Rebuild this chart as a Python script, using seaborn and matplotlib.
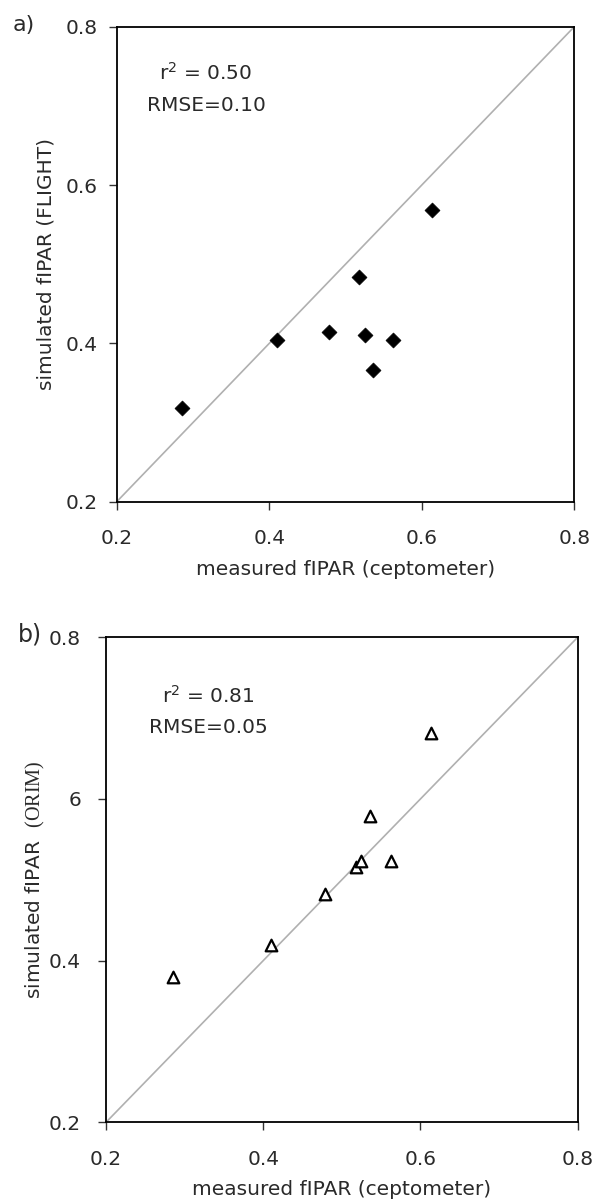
import matplotlib
matplotlib.use("Agg")
import matplotlib.pyplot as plt
import seaborn as sns
import pandas as pd

# ---- data ----
measured = [0.285, 0.410, 0.479, 0.518, 0.525, 0.536, 0.562, 0.614]
flight = [0.318, 0.404, 0.414, 0.484, 0.410, 0.367, 0.404, 0.568]
orim = [0.380, 0.419, 0.483, 0.516, 0.523, 0.579, 0.523, 0.681]
axis_lims = [0.2, 0.8]
ticks = [0.2, 0.4, 0.6, 0.8]
xtick_labels = ["0.2", "0.4", "0.6", "0.8"]
ytick_labels_a = ["0.2", "0.4", "0.6", "0.8"]
ytick_labels_b = ["0.2", "0.4", "6", "0.8"]
stats_a = ["r$^{\\mathregular{2}}$ = 0.50", "RMSE=0.10"]
stats_b = ["r$^{\\mathregular{2}}$ = 0.81", "RMSE=0.05"]

sns.set_theme(style="ticks")
plt.rcParams["font.family"] = ["DejaVu Sans"]
plt.rcParams["mathtext.fontset"] = "custom"
plt.rcParams["mathtext.rm"] = "Liberation Serif"
plt.rcParams["mathtext.it"] = "Liberation Serif:italic"

FS = 14.5
TXT = "#2a2a2a"
df_a = pd.DataFrame({"x": measured, "y": flight})
df_b = pd.DataFrame({"x": measured, "y": orim})

fig = plt.figure(figsize=(6.02, 12), dpi=100)
ax1 = fig.add_axes([0.1939, 0.5819, 0.7600, 0.3958])
ax2 = fig.add_axes([0.1761, 0.06475, 0.7835, 0.4042])


def style(ax, ylabels, ypad, ylabel, ylabelpad):
    ax.plot(axis_lims, axis_lims, color="#b0b0b0", lw=1.2, zorder=1)
    ax.set_xlim(axis_lims)
    ax.set_ylim(axis_lims)
    ax.set_xticks(ticks)
    ax.set_xticklabels(xtick_labels)
    ax.set_yticks(ticks)
    ax.set_yticklabels(ylabels)
    for s in ax.spines.values():
        s.set_visible(True)
        s.set_color("black")
        s.set_linewidth(1.3)
    ax.tick_params(axis="x", direction="out", length=6, width=1, colors="#333333",
                   labelcolor=TXT, labelsize=FS, pad=14, top=False)
    ax.tick_params(axis="y", direction="out", length=6, width=1, colors="#333333",
                   labelcolor=TXT, labelsize=FS, pad=ypad, right=False)
    ax.set_xlabel("measured fIPAR (ceptometer)", fontsize=FS, color=TXT, labelpad=8)
    ax.set_ylabel(ylabel, fontsize=FS, color=TXT, labelpad=ylabelpad)
    ax.set_facecolor("white")


sns.scatterplot(data=df_a, x="x", y="y", ax=ax1, marker="D", s=58,
                color="black", edgecolor="black", linewidth=0.5, zorder=3)
style(ax1, ytick_labels_a, 8, "simulated fIPAR (FLIGHT)", 7)
ax1.text(0.316, 0.741, stats_a[0], fontsize=FS, color=TXT, ha="center", va="center")
ax1.text(0.317, 0.700, stats_a[1], fontsize=FS, color=TXT, ha="center", va="center")

sns.scatterplot(data=df_b, x="x", y="y", ax=ax2, marker="^", s=70,
                facecolor="white", edgecolor="black", linewidth=1.6, zorder=3)
style(ax2, ytick_labels_b, 12, "simulated fIPAR  $\\mathrm{(ORIM)}$", 1)
ax2.text(0.330, 0.7265, stats_b[0], fontsize=FS, color=TXT, ha="center", va="center")
ax2.text(0.330, 0.688, stats_b[1], fontsize=FS, color=TXT, ha="center", va="center")

fig.text(0.0216, 0.979, "a)", fontsize=16, color=TXT, ha="left", va="center")
fig.text(0.030, 0.471, "b)", fontsize=17, color=TXT, ha="left", va="center")

fig.savefig("out.png", dpi=100, facecolor="white")
